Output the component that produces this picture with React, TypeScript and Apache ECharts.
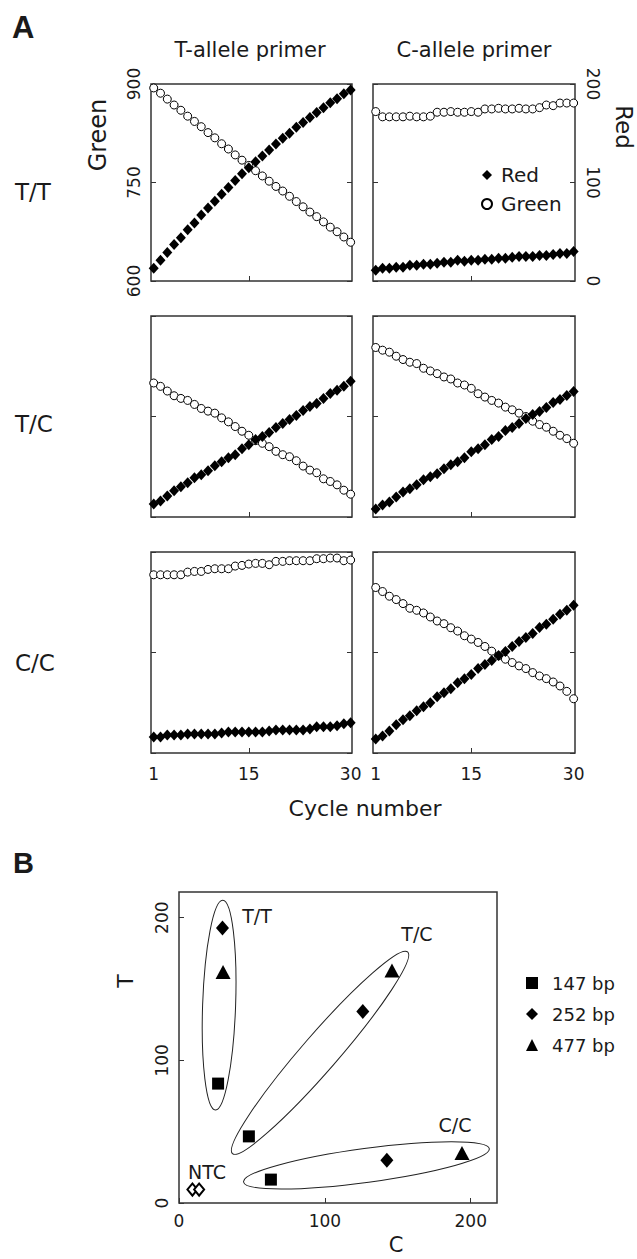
import React, { useEffect, useRef } from "react";
import * as echarts from "echarts";

// ---------- Data ----------
const cycles = [1, 2, 3, 4, 5, 6, 7, 8, 9, 10, 11, 12, 13, 14, 15, 16, 17, 18, 19, 20, 21, 22, 23, 24, 25, 26, 27, 28, 29, 30];

// Panel A: genotype rows (T/T, T/C, C/C) x primer columns (T-allele, C-allele)
const ttTGreen = [894, 886, 877, 868, 860, 851, 843, 835, 826, 818, 809, 801, 792, 784, 776, 768, 760, 752, 744, 737, 729, 721, 713, 705, 698, 690, 682, 675, 667, 659];
const ttTRed = [13, 21, 29, 37, 44, 52, 59, 67, 74, 81, 88, 95, 102, 109, 115, 121, 127, 133, 139, 145, 150, 156, 161, 166, 171, 176, 181, 185, 190, 194];
const ttCGreen = [858, 850, 850, 850, 850, 851, 850, 850, 851, 857, 857, 858, 857, 857, 858, 857, 862, 862, 863, 862, 862, 863, 862, 862, 864, 868, 867, 871, 871, 871];
const ttCRed = [11, 13, 13, 14, 14, 16, 16, 17, 17, 18, 19, 19, 21, 20, 21, 21, 22, 22, 23, 23, 24, 25, 25, 25, 26, 26, 27, 28, 28, 30];
const tcTGreen = [800, 795, 788, 781, 777, 774, 768, 762, 758, 755, 748, 742, 735, 728, 722, 714, 710, 705, 698, 693, 690, 684, 676, 670, 666, 657, 653, 648, 640, 634];
const tcTRed = [13, 16, 21, 26, 30, 34, 39, 42, 46, 51, 55, 59, 62, 68, 72, 77, 80, 84, 89, 93, 97, 101, 106, 110, 113, 118, 123, 126, 130, 135];
const tcCGreen = [853, 849, 846, 840, 835, 831, 829, 822, 818, 814, 809, 806, 800, 797, 792, 784, 779, 774, 770, 764, 760, 755, 750, 743, 738, 734, 728, 722, 717, 710];
const tcCRed = [8, 12, 15, 20, 25, 28, 32, 37, 40, 43, 48, 52, 55, 59, 65, 68, 72, 77, 80, 86, 89, 93, 98, 102, 105, 109, 114, 117, 121, 125];
const ccTGreen = [866, 866, 866, 866, 866, 870, 871, 871, 874, 875, 875, 875, 879, 880, 882, 883, 883, 881, 886, 886, 887, 887, 887, 887, 890, 890, 891, 891, 887, 888];
const ccTRed = [16, 16, 18, 18, 18, 19, 19, 19, 19, 19, 20, 21, 21, 21, 21, 21, 21, 22, 23, 23, 23, 23, 23, 24, 26, 26, 26, 27, 29, 30];
const ccCGreen = [847, 841, 834, 829, 823, 816, 813, 809, 803, 797, 793, 787, 782, 775, 770, 765, 759, 752, 745, 740, 735, 730, 726, 720, 715, 711, 706, 700, 692, 681];
const ccCRed = [14, 17, 22, 28, 33, 37, 42, 46, 50, 56, 60, 64, 70, 74, 78, 84, 88, 92, 97, 101, 106, 111, 115, 119, 125, 128, 133, 138, 142, 147];

const greenTicks = [600, 750, 900];
const redTicks = [0, 100, 200];
const cycleTicks = [1, 15, 30];

// Panel B: [C, T]
const bp147 = [[26.8, 83.7], [47.9, 46.7], [63, 16.4]];
const bp252 = [[29.8, 192.7], [126, 134.3], [142.5, 29.9]];
const bp477 = [[30.2, 161.9], [146, 163], [194, 35]];
const ntc = [[9.2, 9.4], [13.8, 9.4]];
const clusterCenters = [[27.5, 138.7], [96.7, 105.3], [128.5, 26.4]];

// ---------- Layout ----------
const FONT = '"DejaVu Sans", sans-serif';
const INK = "#1a1a1a";
const panelGrids = [
  { left: 151, top: 84, width: 201, height: 197 },
  { left: 373, top: 84, width: 202, height: 197 },
  { left: 151, top: 316, width: 201, height: 201 },
  { left: 373, top: 316, width: 202, height: 201 },
  { left: 151, top: 552, width: 201, height: 201 },
  { left: 373, top: 552, width: 202, height: 201 },
];
const gridB = { left: 179, top: 892, width: 318, height: 311 };
const ellipseShapes = [
  { a: 105, b: 16.5, angle: 88 },
  { a: 133.5, b: 18, angle: 49 },
  { a: 124, b: 17, angle: 7.7 },
];

export default function App() {
  const ref = useRef<HTMLDivElement>(null);

  useEffect(() => {
    if (!ref.current) return;
    const chart = echarts.init(ref.current, null, { renderer: "svg" });

    const panelData = [
      [ttTGreen, ttTRed],
      [ttCGreen, ttCRed],
      [tcTGreen, tcTRed],
      [tcCGreen, tcCRed],
      [ccTGreen, ccTRed],
      [ccCGreen, ccCRed],
    ];

    const grids: any[] = panelGrids.map((g) => ({
      ...g,
      show: true,
      borderColor: "#333",
      borderWidth: 1.5,
      backgroundColor: "transparent",
    }));
    grids.push({ ...gridB, show: true, borderColor: "#333", borderWidth: 1.5, backgroundColor: "transparent" });

    const xAxes: any[] = panelGrids.map((_, i) => ({
      type: "value",
      gridIndex: i,
      min: 0.6,
      max: 30.2,
      axisLine: { show: false },
      splitLine: { show: false },
      axisTick: { show: true, inside: true, length: 5, customValues: [15], lineStyle: { color: "#333" } },
      axisLabel: {
        show: i >= 4,
        customValues: cycleTicks,
        fontSize: 17,
        fontFamily: FONT,
        color: INK,
        margin: 12,
      },
    }));
    xAxes.push({
      type: "value",
      gridIndex: 6,
      min: 0,
      max: 218,
      interval: 100,
      axisLine: { show: false },
      splitLine: { show: false },
      axisTick: { show: true, inside: true, length: 5, lineStyle: { color: "#333" } },
      axisLabel: { fontSize: 17, fontFamily: FONT, color: INK, margin: 9 },
    });

    const yAxes: any[] = [];
    panelGrids.forEach((_, i) => {
      yAxes.push({
        type: "value",
        gridIndex: i,
        position: "left",
        min: greenTicks[0],
        max: greenTicks[2],
        interval: 150,
        axisLine: { show: false },
        splitLine: { show: false },
        axisTick: { show: true, inside: true, length: 5, lineStyle: { color: "#333" } },
        axisLabel: { show: i === 0, rotate: 90, fontSize: 17, fontFamily: FONT, color: INK, margin: 9 },
      });
      yAxes.push({
        type: "value",
        gridIndex: i,
        position: "right",
        min: redTicks[0],
        max: redTicks[2],
        interval: 100,
        axisLine: { show: false },
        splitLine: { show: false },
        axisTick: { show: true, inside: true, length: 5, lineStyle: { color: "#333" } },
        axisLabel: { show: i === 1, rotate: -90, fontSize: 17, fontFamily: FONT, color: INK, margin: 9 },
      });
    });
    yAxes.push({
      type: "value",
      gridIndex: 6,
      min: 0,
      max: 218,
      interval: 100,
      axisLine: { show: false },
      splitLine: { show: false },
      axisTick: { show: true, inside: true, length: 5, lineStyle: { color: "#333" } },
      axisLabel: { rotate: 90, fontSize: 17, fontFamily: FONT, color: INK, margin: 9 },
    });

    const series: any[] = [];
    panelData.forEach(([green, red], i) => {
      series.push({
        type: "scatter",
        name: "Green",
        xAxisIndex: i,
        yAxisIndex: 2 * i,
        data: cycles.map((c, k) => [c, green[k]]),
        symbol: "circle",
        symbolSize: 8,
        itemStyle: { color: "#fff", borderColor: "#000", borderWidth: 1, opacity: 1 },
        emphasis: { disabled: true },
      });
      series.push({
        type: "scatter",
        name: "Red",
        xAxisIndex: i,
        yAxisIndex: 2 * i + 1,
        data: cycles.map((c, k) => [c, red[k]]),
        symbol: "diamond",
        symbolSize: [10, 11],
        itemStyle: { color: "#000", opacity: 1 },
        emphasis: { disabled: true },
      });
    });
    series.push({
      type: "scatter", name: "147 bp", xAxisIndex: 6, yAxisIndex: 12, data: bp147,
      symbol: "rect", symbolSize: 12, itemStyle: { color: "#000", opacity: 1 }, z: 5,
    });
    series.push({
      type: "scatter", name: "252 bp", xAxisIndex: 6, yAxisIndex: 12, data: bp252,
      symbol: "diamond", symbolSize: [13, 15], itemStyle: { color: "#000", opacity: 1 }, z: 5,
    });
    series.push({
      type: "scatter", name: "477 bp", xAxisIndex: 6, yAxisIndex: 12, data: bp477,
      symbol: "triangle", symbolSize: [15, 14], itemStyle: { color: "#000", opacity: 1 }, z: 5,
    });
    series.push({
      type: "scatter", name: "NTC", xAxisIndex: 6, yAxisIndex: 12, data: ntc,
      symbol: "diamond", symbolSize: [10, 12], itemStyle: { color: "#fff", borderColor: "#000", borderWidth: 2, opacity: 1 }, z: 5,
    });

    const text = (t: string, x: number, y: number, size: number, extra: any = {}) => ({
      type: "text",
      x,
      y,
      rotation: extra.rotation || 0,
      style: {
        text: t,
        fontSize: size,
        fontFamily: extra.fontFamily || FONT,
        fontWeight: extra.fontWeight || "normal",
        fill: INK,
        align: extra.align || "center",
        verticalAlign: "middle",
      },
    });

    const texts = [
      text("A", 12, 27, 31, { align: "left", fontWeight: "bold", fontFamily: '"Liberation Sans", Arial, sans-serif' }),
      text("B", 13, 863, 29, { align: "left", fontWeight: "bold", fontFamily: '"Liberation Sans", Arial, sans-serif' }),
      text("T-allele primer", 250, 50, 21),
      text("C-allele primer", 474, 50, 21),
      text("Green", 98, 135, 24, { rotation: Math.PI / 2 }),
      text("Red", 624, 127, 23, { rotation: -Math.PI / 2 }),
      text("T/T", 15, 192, 23, { align: "left" }),
      text("T/C", 15, 424, 23, { align: "left" }),
      text("C/C", 15, 663, 23, { align: "left" }),
      text("Cycle number", 365, 808, 22),
      text("T", 125, 981, 22, { rotation: Math.PI / 2 }),
      text("C", 396, 1245, 21),
      text("T/T", 257, 916, 19),
      text("T/C", 417, 934, 19),
      text("C/C", 455, 1125, 19),
      text("NTC", 207, 1172, 19),
    ];

    const option: any = {
      animation: false,
      backgroundColor: "#fff",
      textStyle: { fontFamily: FONT },
      grid: grids,
      xAxis: xAxes,
      yAxis: yAxes,
      legend: [
        {
          data: ["Red", "Green"],
          orient: "vertical",
          left: 476,
          top: 160,
          itemWidth: 10,
          itemHeight: 10,
          itemGap: 9,
          selectedMode: false,
          textStyle: { fontSize: 20, fontFamily: FONT, color: INK, padding: [0, 0, 0, 4] },
        },
        {
          data: ["147 bp", "252 bp", "477 bp"],
          orient: "vertical",
          left: 521,
          top: 969,
          itemWidth: 12,
          itemHeight: 12,
          itemGap: 13,
          selectedMode: false,
          textStyle: { fontSize: 18, fontFamily: FONT, color: INK, padding: [0, 0, 0, 9] },
        },
      ],
      series,
    };
    chart.setOption(option);

    const ellipses = clusterCenters.map((c, i) => {
      const p = chart.convertToPixel({ gridIndex: 6 } as any, c) as number[];
      const s = ellipseShapes[i];
      return {
        type: "ellipse",
        x: p[0],
        y: p[1],
        rotation: (s.angle * Math.PI) / 180,
        shape: { cx: 0, cy: 0, rx: s.a, ry: s.b },
        style: { fill: "none", stroke: "#222", lineWidth: 1 },
        z: 1,
      };
    });

    chart.setOption({ graphic: [...texts, ...ellipses] });

    return () => chart.dispose();
  }, []);

  return (
    <div
      ref={ref}
      style={{ position: "absolute", left: 0, top: 0, width: 637, height: 1259, background: "#fff" }}
    />
  );
}
